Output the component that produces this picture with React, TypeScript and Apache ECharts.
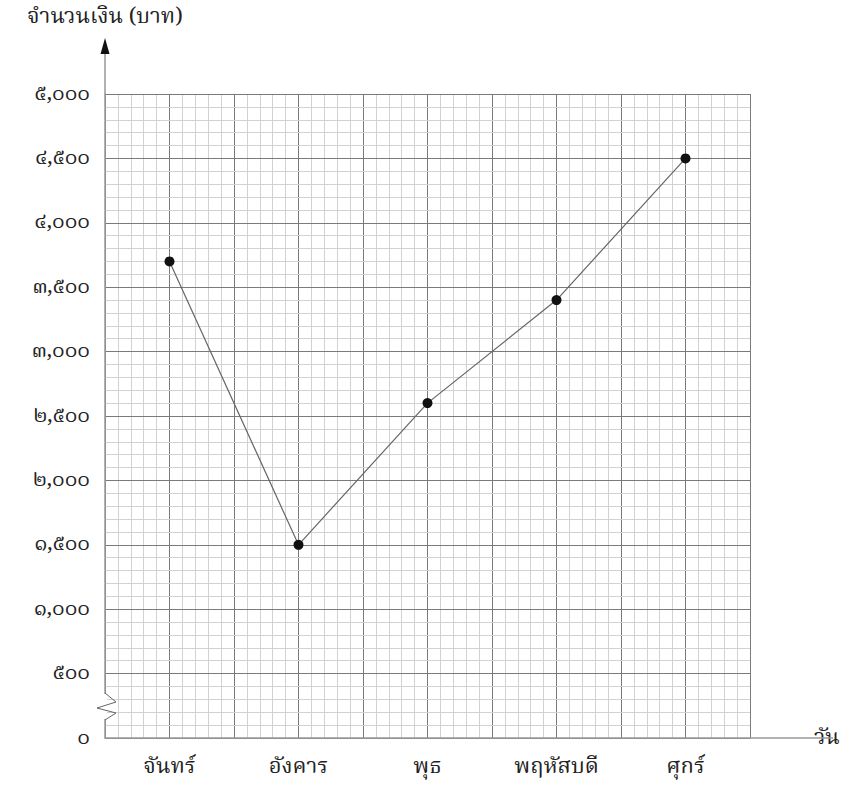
import React, { useEffect, useRef } from "react";
import * as echarts from "echarts";

const categories = ["จันทร์", "อังคาร", "พุธ", "พฤหัสบดี", "ศุกร์"];
const amounts = [3700, 1500, 2600, 3400, 4500];
const yTickLabels = ["๐", "๕๐๐", "๑,๐๐๐", "๑,๕๐๐", "๒,๐๐๐", "๒,๕๐๐", "๓,๐๐๐", "๓,๕๐๐", "๔,๐๐๐", "๔,๕๐๐", "๕,๐๐๐"];
const yName = "จำนวนเงิน (บาท)";
const xName = "วัน";

const FONT = "'Noto Serif Thai', 'Noto Sans Thai', 'Tlwg Typo', Garuda, serif";

export default function App() {
  const ref = useRef<HTMLDivElement>(null);
  useEffect(() => {
    document.body.style.margin = "0";
    const chart = echarts.init(ref.current!, null, { renderer: "svg" });
    const L = 105, T = 94, R = 750, B = 738;
    chart.setOption({
      animation: false,
      backgroundColor: "#ffffff",
      grid: { left: L, top: T, right: 867 - R, bottom: 796 - B, containLabel: false },
      xAxis: [
        {
          type: "category",
          data: categories,
          boundaryGap: true,
          axisLine: { show: true, lineStyle: { color: "#999", width: 1.5 } },
          axisTick: { show: false },
          axisLabel: { fontSize: 22, color: "#222", margin: 18, fontFamily: FONT },
          splitLine: { show: false },
          name: xName,
          nameLocation: "end",
          nameGap: 64,
          nameTextStyle: { fontSize: 22, color: "#222", fontFamily: FONT },
          z: 5,
        },
        {
          type: "value",
          min: 0,
          max: 10,
          interval: 1,
          show: true,
          axisLine: { show: false },
          axisTick: { show: false },
          axisLabel: { show: false },
          splitLine: { show: true, lineStyle: { color: "#7a7a7a", width: 1 } },
          minorTick: { show: false, splitNumber: 5 },
          minorSplitLine: { show: true, lineStyle: { color: "#d2d2d2", width: 1 } },
        },
      ],
      yAxis: {
        type: "value",
        min: 0,
        max: 5000,
        interval: 500,
        axisLine: { show: true, lineStyle: { color: "#999", width: 1.5 } },
        axisTick: { show: false },
        axisLabel: {
          fontSize: 21,
          color: "#222",
          margin: 15,
          fontFamily: FONT,
          formatter: (v: number) => yTickLabels[Math.round(v / 500)],
        },
        splitLine: { show: true, lineStyle: { color: "#7a7a7a", width: 1 } },
        minorTick: { show: false, splitNumber: 5 },
        minorSplitLine: { show: true, lineStyle: { color: "#d2d2d2", width: 1 } },
        z: 5,
      },
      series: [
        {
          type: "line",
          xAxisIndex: 0,
          data: amounts,
          symbol: "circle",
          symbolSize: 10,
          itemStyle: { color: "#111" },
          lineStyle: { color: "#666", width: 1.2 },
          z: 10,
        },
      ],
      graphic: [
        { type: "line", shape: { x1: L, y1: T, x2: L, y2: 48 }, style: { stroke: "#999", lineWidth: 1.5 }, z: 20 },
        { type: "polygon", shape: { points: [[L, 38], [L - 4.5, 54], [L + 4.5, 54]] }, style: { fill: "#111" }, z: 20 },
        { type: "line", shape: { x1: R, y1: B, x2: 833, y2: B }, style: { stroke: "#999", lineWidth: 1.5 }, z: 20 },
        { type: "rect", shape: { x: L - 2, y: 694, width: 4, height: 25 }, style: { fill: "#ffffff" }, z: 20 },
        {
          type: "polyline",
          shape: { points: [[L, 693], [L + 11, 702], [L - 8, 708], [L + 11, 713], [L, 720]] },
          style: { stroke: "#666", lineWidth: 1, fill: null },
          z: 21,
        },
        {
          type: "text",
          left: 27,
          top: 6,
          style: { text: yName, fontSize: 22, fill: "#222", fontFamily: FONT },
          z: 21,
        },
      ],
    });
    return () => chart.dispose();
  }, []);
  return <div ref={ref} style={{ width: 867, height: 796 }} />;
}
